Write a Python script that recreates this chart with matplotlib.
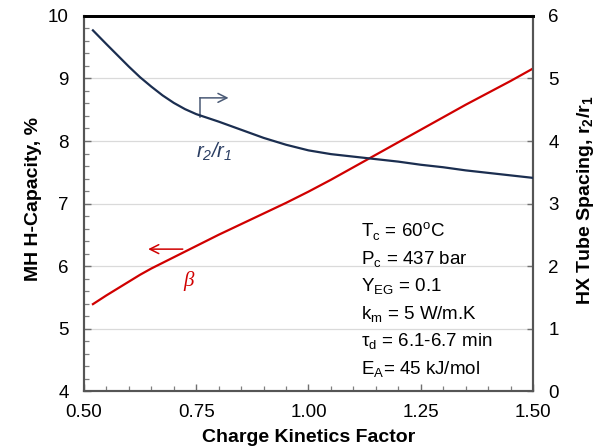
import matplotlib.pyplot as plt
import numpy as np

plt.rcParams['font.family'] = ['Liberation Sans', 'DejaVu Sans']

# Charge kinetics factor (x)
kinetics = [0.52, 0.55, 0.575, 0.60, 0.625, 0.65, 0.675, 0.70, 0.725, 0.75,
            0.775, 0.80, 0.85, 0.90, 0.95, 1.00, 1.05, 1.10, 1.15, 1.20,
            1.25, 1.30, 1.35, 1.40, 1.45, 1.50]
# MH H-capacity beta, % (left axis)
beta = [5.39, 5.53, 5.64, 5.75, 5.86, 5.96, 6.05, 6.14, 6.23, 6.32,
        6.41, 6.50, 6.67, 6.84, 7.01, 7.19, 7.38, 7.58, 7.78, 7.98,
        8.18, 8.38, 8.58, 8.77, 8.96, 9.16]
# HX tube spacing r2/r1 (right axis)
r_ratio = [5.77, 5.55, 5.37, 5.19, 5.02, 4.87, 4.73, 4.61, 4.51, 4.43,
           4.37, 4.31, 4.18, 4.05, 3.94, 3.85, 3.79, 3.75, 3.71, 3.67,
           3.62, 3.58, 3.53, 3.49, 3.45, 3.41]

params = ['T$_\\mathregular{c}$ = 60$^\\mathregular{o}$C',
          'P$_\\mathregular{c}$ = 437 bar',
          'Y$_\\mathregular{EG}$ = 0.1',
          'k$_\\mathregular{m}$ = 5 W/m.K',
          'τ$_\\mathregular{d}$ = 6.1-6.7 min',
          'E$_\\mathregular{A}$= 45 kJ/mol']

red = '#d00000'
navy = '#1b2e50'

fig = plt.figure(figsize=(6.04, 4.48), dpi=100)
ax = fig.add_axes([0.139, 0.1272, 0.7435, 0.8371])
ax2 = ax.twinx()

ax.plot(kinetics, beta, color=red, lw=1.6, zorder=3)
ax2.plot(kinetics, r_ratio, color=navy, lw=1.6, zorder=3)

ax.set_xlim(0.5, 1.5)
ax.set_ylim(4, 10)
ax2.set_ylim(0, 6)
ax.set_xticks(np.arange(0.5, 1.51, 0.25))
ax.set_xticks(np.arange(0.5, 1.51, 0.05), minor=True)
ax.set_xticklabels(['0.50', '0.75', '1.00', '1.25', '1.50'])
ax.set_yticks(range(4, 11))
ax.set_yticks(np.arange(4, 10.01, 0.2), minor=True)
ax2.set_yticks(range(0, 7))

ax.grid(axis='y', which='major', color='#dadada', lw=0.9)
ax.set_axisbelow(True)

ax.tick_params(axis='both', which='major', direction='in', length=5, width=1,
               color='#707070', labelsize=13.5, pad=11)
ax.tick_params(axis='both', which='minor', direction='in', length=3.5, width=0.9,
               color='#808080')
ax.tick_params(axis='y', which='both', right=False)
ax.tick_params(axis='x', which='major', pad=9)
ax2.tick_params(axis='y', which='major', direction='in', length=4, width=1,
                color='#707070', labelsize=13.5, pad=11)

for a in (ax, ax2):
    a.spines['top'].set_color('black')
    a.spines['top'].set_linewidth(2)
    for s in ('left', 'bottom', 'right'):
        a.spines[s].set_color('#555555')
        a.spines[s].set_linewidth(1.5)

ax.set_xlabel('Charge Kinetics Factor', fontsize=14, fontweight='bold')
ax.xaxis.set_label_coords(0.5, -0.1)
ax.set_ylabel('MH H-Capacity, %', fontsize=14, fontweight='bold')
ax.yaxis.set_label_coords(-0.0935, 0.512)
ax2.set_ylabel('HX Tube Spacing, r$_\\mathregular{2}$/r$_\\mathregular{1}$',
               fontsize=14, fontweight='bold', rotation=90)
ax2.yaxis.set_label_coords(1.0935, 0.51)

# curve labels and arrows
ax2.plot([0.759, 0.759], [4.38, 4.69], color='#4a5a75', lw=1.1)
ax2.annotate('', xy=(0.822, 4.69), xytext=(0.758, 4.69),
             arrowprops=dict(arrowstyle='->', color='#4a5a75', lw=1.1,
                             mutation_scale=16, shrinkA=0, shrinkB=0))
ax2.text(0.79, 3.82, 'r$_\\mathregular{2}$/r$_\\mathregular{1}$',
         color='#2a3d62', fontsize=14.5, fontstyle='italic',
         ha='center', va='center')

ax.annotate('', xy=(0.643, 6.27), xytext=(0.72, 6.27),
            arrowprops=dict(arrowstyle='->', color=red, lw=1.1,
                            mutation_scale=16, shrinkA=0, shrinkB=0))
ax.text(0.733, 5.76, 'β', color=red, fontsize=15, family='Liberation Serif',
        fontstyle='italic', ha='center', va='center')

for i, line in enumerate(params):
    ax.text(1.116, 6.464 - 0.44 * i, line, fontsize=13.5, ha='left',
            va='baseline')

fig.savefig('out.png', dpi=100)
